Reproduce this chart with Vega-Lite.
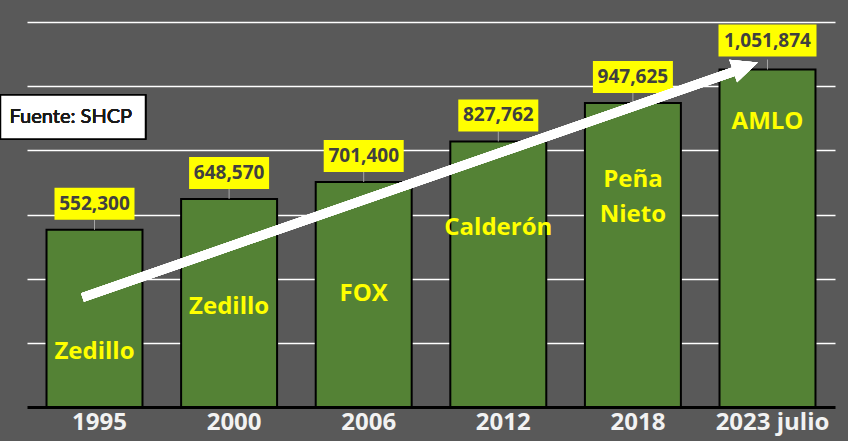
{
  "$schema": "https://vega.github.io/schema/vega-lite/v6.json",
  "width": 808,
  "height": 385,
  "autosize": {"type": "none"},
  "padding": {"left": 27, "top": 22, "right": 13, "bottom": 34},
  "background": "#595959",
  "config": {"view": {"stroke": null}, "font": "Open Sans"},
  "data": {"values": [
    {"year": "1995", "value": 552300, "name": "Zedillo", "nameAt": 171000},
    {"year": "2000", "value": 648570, "name": "Zedillo", "nameAt": 312000},
    {"year": "2006", "value": 701400, "name": "FOX", "nameAt": 352000},
    {"year": "2012", "value": 827762, "name": "Calderón", "nameAt": 558000},
    {"year": "2018", "value": 947625, "name": "Peña\nNieto", "nameAt": 707000},
    {"year": "2023 julio", "value": 1051874, "name": "AMLO", "nameAt": 888000}
  ]},
  "encoding": {
    "x": {"field": "year", "type": "nominal", "sort": null,
      "scale": {"paddingInner": 0.287, "paddingOuter": 0.145},
      "axis": {"title": null, "labelAngle": 0, "labelFont": "Open Sans", "labelFontSize": 24, "labelFontWeight": "bold", "labelColor": "#f2f2f2", "ticks": false, "domainColor": "#000000", "domainWidth": 3, "labelPadding": 3, "labelOffset": 5, "grid": false}}
  },
  "layer": [
    {
      "mark": {"type": "bar", "fill": "#548235", "stroke": "#000000", "strokeWidth": 2},
      "encoding": {
        "y": {"field": "value", "type": "quantitative",
          "scale": {"domain": [0, 1200000], "nice": false},
          "axis": {"title": null, "labels": false, "ticks": false, "domain": false, "grid": true, "gridColor": "#ffffff", "gridWidth": 1.5, "values": [200000, 400000, 600000, 800000, 1000000, 1200000]}}
      }
    },
    {
      "mark": {"type": "rule", "color": "#a6a6a6", "strokeWidth": 1, "y2Offset": -10},
      "encoding": {"y": {"field": "value", "type": "quantitative"}, "y2": {"field": "value"}}
    },
    {
      "transform": [{"filter": "datum.year != '2023 julio'"}],
      "mark": {"type": "bar", "fill": "#ffff00", "width": 80, "yOffset": -10, "y2Offset": -42},
      "encoding": {"y": {"field": "value", "type": "quantitative"}, "y2": {"field": "value"}}
    },
    {
      "transform": [{"filter": "datum.year == '2023 julio'"}],
      "mark": {"type": "bar", "fill": "#ffff00", "width": 98, "yOffset": -13, "y2Offset": -45},
      "encoding": {"y": {"field": "value", "type": "quantitative"}, "y2": {"field": "value"}}
    },
    {
      "transform": [{"filter": "datum.year != '2023 julio'"}],
      "mark": {"type": "text", "font": "Open Sans", "fontSize": 19, "fontWeight": "bold", "color": "#404040", "baseline": "middle", "yOffset": -26},
      "encoding": {"y": {"field": "value", "type": "quantitative"}, "text": {"field": "value", "type": "quantitative", "format": ","}}
    },
    {
      "transform": [{"filter": "datum.year == '2023 julio'"}],
      "mark": {"type": "text", "font": "Open Sans", "fontSize": 19, "fontWeight": "bold", "color": "#404040", "baseline": "middle", "yOffset": -29},
      "encoding": {"y": {"field": "value", "type": "quantitative"}, "text": {"field": "value", "type": "quantitative", "format": ","}}
    },
    {
      "mark": {"type": "text", "font": "Open Sans", "fontSize": 24, "fontWeight": "bold", "color": "#ffff00", "baseline": "middle", "lineBreak": "\n", "lineHeight": 35},
      "encoding": {"y": {"field": "nameAt", "type": "quantitative"}, "text": {"field": "name"}}
    },
    {
      "mark": {"type": "rule", "color": "#ffffff", "strokeWidth": 9, "strokeCap": "butt", "xOffset": -12, "x2Offset": -32},
      "encoding": {
        "x": {"datum": "1995"},
        "x2": {"datum": "2023 julio"},
        "y": {"datum": 341300},
        "y2": {"datum": 1047300}
      }
    },
    {
      "mark": {"type": "point", "shape": "M1,0L-1,-0.92L-1,0.92Z", "filled": true, "color": "#ffffff", "opacity": 1, "size": 676, "angle": -19, "xOffset": -22},
      "encoding": {
        "x": {"datum": "2023 julio"},
        "y": {"datum": 1060400}
      }
    },
    {
      "mark": {"type": "bar", "fill": "#ffffff", "stroke": "#000000", "strokeWidth": 1.5, "width": 145, "xOffset": -21.5},
      "encoding": {
        "x": {"datum": "1995"},
        "y": {"datum": 835000},
        "y2": {"datum": 972500}
      }
    },
    {
      "mark": {"type": "text", "font": "Lato", "fontSize": 20, "fontWeight": "normal", "color": "#1a1a1a", "align": "left", "baseline": "middle", "xOffset": -85},
      "encoding": {
        "x": {"datum": "1995"},
        "y": {"datum": 904000},
        "text": {"value": "Fuente: SHCP"}
      }
    }
  ]
}
